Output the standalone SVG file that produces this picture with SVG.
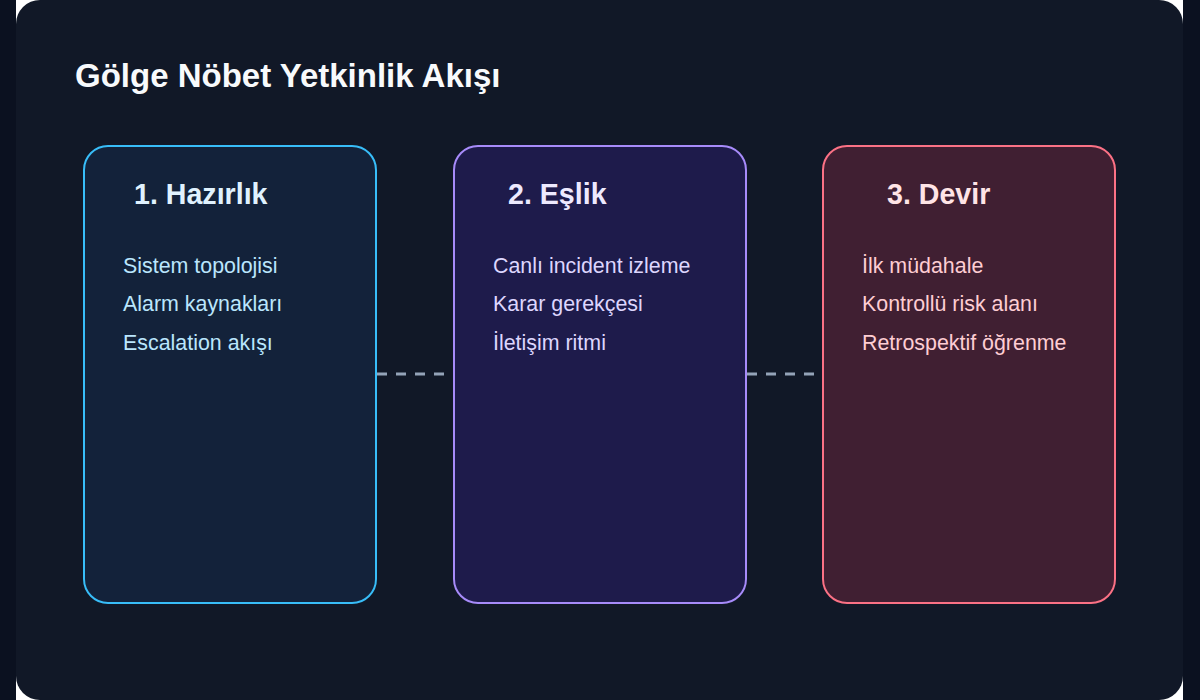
<svg xmlns="http://www.w3.org/2000/svg" width="1200" height="700" viewBox="0 0 1200 700">
<style>
.card{stroke-width:2}
.t{font-family:"Liberation Sans",Arial,sans-serif;font-weight:bold;font-size:28.6px}
.i{font-family:"Liberation Sans",Arial,sans-serif;font-size:21.4px}
.conn{stroke:#94a3b8;stroke-width:3;stroke-dasharray:10 9;fill:none}
</style>
<rect x="0" y="0" width="1200" height="700" fill="#ffffff"/>
<rect x="0" y="0" width="16" height="700" fill="#0b1120"/>
<rect x="1183" y="0" width="17" height="700" fill="#0b1120"/>
<rect x="16" y="0" width="1167" height="700" rx="24" fill="#111827"/>
<text x="75" y="87" font-family="Liberation Sans, Arial, sans-serif" font-weight="bold" font-size="33" fill="#f8fafc">Gölge Nöbet Yetkinlik Akışı</text>
<g id="connectors">
<line class="conn" x1="377" y1="374" x2="446" y2="374"/>
<line class="conn" x1="747" y1="374" x2="816" y2="374"/>
</g>
<g id="node1">
<rect class="card" x="84" y="146" width="292" height="457" rx="24" fill="#13223a" stroke="#38bdf8"/>
<text class="t" x="134" y="204" fill="#e0f2fe">1. Hazırlık</text>
<text class="i" x="123" y="273" fill="#bae6fd">Sistem topolojisi</text>
<text class="i" x="123" y="311" fill="#bae6fd">Alarm kaynakları</text>
<text class="i" x="123" y="350" fill="#bae6fd">Escalation akışı</text>
</g>
<g id="node2">
<rect class="card" x="454" y="146" width="292" height="457" rx="24" fill="#1e1b4b" stroke="#a78bfa"/>
<text class="t" x="508" y="204" fill="#ede9fe">2. Eşlik</text>
<text class="i" x="493" y="273" fill="#ddd6fe">Canlı incident izleme</text>
<text class="i" x="493" y="311" fill="#ddd6fe">Karar gerekçesi</text>
<text class="i" x="493" y="350" fill="#ddd6fe">İletişim ritmi</text>
</g>
<g id="node3">
<rect class="card" x="823" y="146" width="292" height="457" rx="24" fill="#401f32" stroke="#fb7185"/>
<text class="t" x="887" y="204" fill="#ffe4e6">3. Devir</text>
<text class="i" x="862" y="273" fill="#fecdd3">İlk müdahale</text>
<text class="i" x="862" y="311" fill="#fecdd3">Kontrollü risk alanı</text>
<text class="i" x="862" y="350" fill="#fecdd3">Retrospektif öğrenme</text>
</g>
</svg>
